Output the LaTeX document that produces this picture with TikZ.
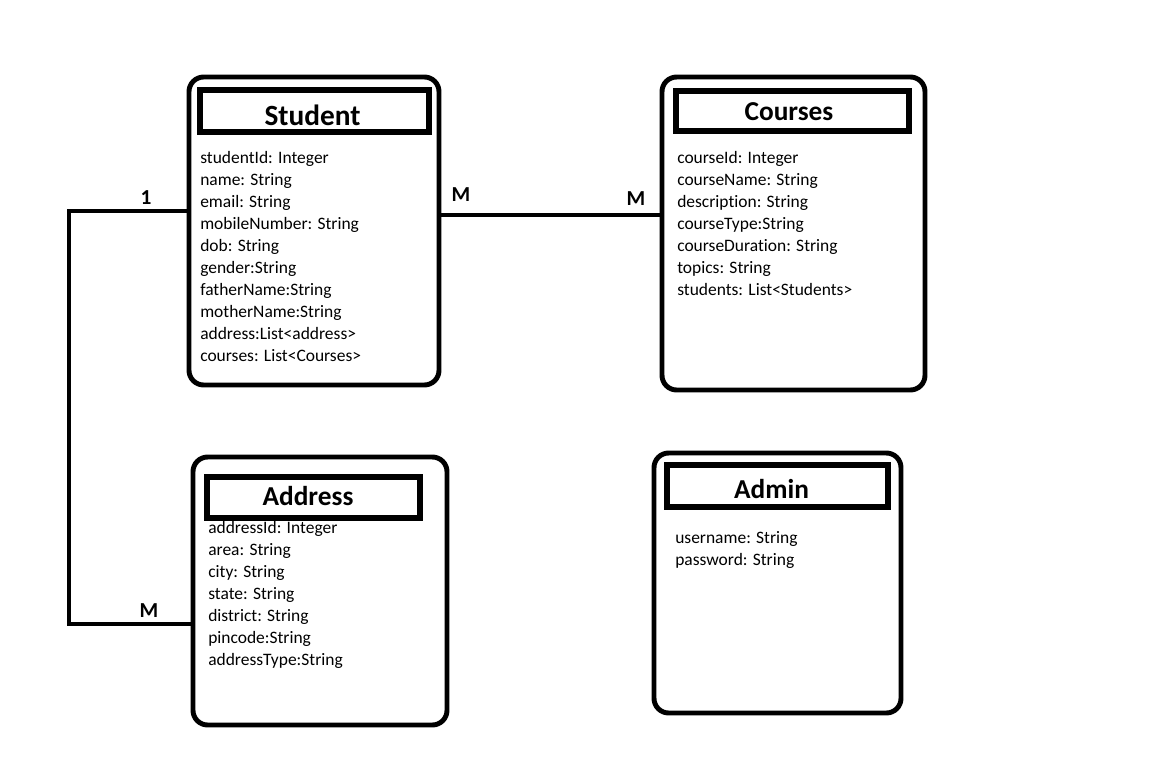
\documentclass[tikz,border=0pt]{standalone}
\usepackage{fontspec}
\setmainfont{Carlito}[Ligatures=CommonOff]
\usetikzlibrary{fit}

\tikzset{
  entity/.style={draw, line width=3.7pt, rounded corners=11pt, inner sep=0pt},
  headbox/.style={draw, line width=3.9pt, inner sep=0pt},
  headtext/.style={font={\fontsize{20.5}{24}\selectfont\bfseries}, anchor=base, inner sep=0pt},
  attr/.style={font={\fontsize{13.1}{15}\selectfont}, anchor=base west, inner sep=0pt},
  card/.style={font={\fontsize{16}{19}\selectfont\bfseries}, inner sep=0pt},
  conn/.style={line width=3.2pt},
}

\begin{document}
\begin{tikzpicture}[x=0.75pt,y=-0.75pt]
  \path[fill=white] (0,0) rectangle (1160,761);
  \useasboundingbox (0,0) rectangle (1160,761);
  % Student
  \node[entity, fit={(189,77) (439,385)}] (student) {};
  \node[headbox, fit={(200,90) (429,132)}] (studenthead) {};
  \node[headtext, font={\fontsize{22}{26}\selectfont\bfseries}] (studenttitle) at (312.5,125) {Student};
  \foreach \t [count=\k] in {studentId: Integer, name: String, email: String,
      mobileNumber: String, dob: String, gender:String, fatherName:String,
      motherName:String, address:List<address>, courses: List<Courses>}
    \node[attr] (s\k) at (200,141+22*\k) {\t};
  % Courses
  \node[entity, fit={(662,77) (925,390)}] (courses) {};
  \node[headbox, fit={(676,91) (909,131)}] (courseshead) {};
  \node[headtext] (coursestitle) at (789,120) {Courses};
  \foreach \t [count=\k] in {courseId: Integer, courseName: String,
      description: String, courseType:String, courseDuration: String,
      topics: String, students: List<Students>}
    \node[attr] (c\k) at (677,141+22*\k) {\t};
  % Address
  \node[entity, fit={(193,457) (447,725)}] (address) {};
  \node[headbox, fit={(207,477) (420,518)}] (addresshead) {};
  \node[headtext] (addresstitle) at (308,505) {Address};
  \foreach \t [count=\k] in {addressId: Integer, area: String, city: String,
      state: String, district: String, pincode:String, addressType:String}
    \node[attr] (a\k) at (208,511+22*\k) {\t};
  % Admin
  \node[entity, fit={(654,453) (901,713)}] (admin) {};
  \node[headbox, fit={(667,465) (888,507)}] (adminhead) {};
  \node[headtext] (admintitle) at (771.5,498) {Admin};
  \node[attr] (u1) at (675,543) {username: String};
  \node[attr] (u2) at (675,565) {password: String};
  % relations
  \coordinate (sc) at (550,215);
  \coordinate (ta) at (69,211);
  \coordinate (tb) at (69,624);
  \draw[conn] (student.east |- sc) -- (courses.west |- sc);
  \draw[conn] (student.west |- ta) -- (ta) -- (tb) -- (address.west |- tb);
  \node[card] (one) at (146,198) {1};
  \node[card] (many1) at (149,611) {M};
  \node[card] (many2) at (461,195) {M};
  \node[card] (many3) at (636,199) {M};
\end{tikzpicture}
\end{document}
